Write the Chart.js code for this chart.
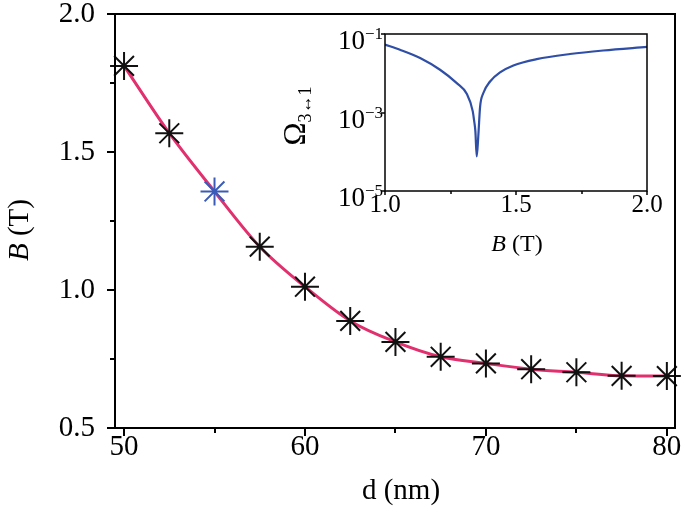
<!DOCTYPE html>
<html>
<head>
<meta charset="utf-8">
<script src="https://cdn.jsdelivr.net/npm/chart.js@4.4.1/dist/chart.umd.min.js"></script>
<style>
  html, body { margin: 0; padding: 0; background: #fff; }
  #wrap { position: relative; width: 685px; height: 519px; }
  #wrap canvas { position: absolute; left: 0; top: 0; }
</style>
</head>
<body>
<div id="wrap">
  <canvas id="mainChart" width="685" height="519"></canvas>
  <canvas id="insetChart" width="685" height="519"></canvas>
</div>
<script>
// main panel: resonance field vs. thickness
const thickness = [50, 52.5, 55, 57.5, 60, 62.5, 65, 67.5, 70, 72.5, 75, 77.5, 80];
const fieldB = [1.812, 1.568, 1.357, 1.157, 1.012, 0.888, 0.812, 0.758, 0.734, 0.713, 0.702, 0.689, 0.688];
const highlighted = 55;

const mainXMajor = [50, 60, 70, 80];
const mainXMinor = [55, 65, 75];
const mainYMajor = [0.5, 1.0, 1.5, 2.0];
const mainYMinor = [0.75, 1.25, 1.75];

// inset: Omega_{3<->1} vs. B
const insetB = [1.00, 1.057, 1.134, 1.21, 1.274, 1.312, 1.335, 1.34, 1.345, 1.350, 1.356, 1.363, 1.375, 1.401, 1.439, 1.49, 1.579, 1.706, 1.833, 2.00];
const insetOmega = [0.0537, 0.0398, 0.0245, 0.0123, 0.00562, 0.00300, 0.00107, 0.00063, 0.000331, 0.0000759, 0.000245, 0.00141, 0.00309, 0.00617, 0.0105, 0.0158, 0.0229, 0.0309, 0.0380, 0.0468];

const insetXMajor = [1.0, 1.5, 2.0];
const insetXMinor = [1.25, 1.75];
const insetYMajor = [1e-5, 1e-3, 1e-1];

const serif = "'Liberation Serif', 'Times New Roman', serif";

function frameAndTicks(o) {
    return {
        id: 'frameAndTicks',
        afterDraw(chart) {
            const { ctx, chartArea: a, scales } = chart;
            ctx.save();
            ctx.strokeStyle = '#000';
            ctx.lineWidth = o.frameWidth;
            ctx.strokeRect(a.left, a.top, a.right - a.left, a.bottom - a.top);
            ctx.lineWidth = o.tickWidth;
            ctx.beginPath();
            const xMark = (vals, len) => vals.forEach(v => {
                const px = Math.round(scales.x.getPixelForValue(v));
                ctx.moveTo(px, a.bottom);
                ctx.lineTo(px, a.bottom + len);
            });
            const yMark = (vals, len) => vals.forEach(v => {
                const py = Math.round(scales.y.getPixelForValue(v));
                ctx.moveTo(a.left, py);
                ctx.lineTo(a.left - len, py);
            });
            xMark(o.xMajor, o.majorLen);
            xMark(o.xMinor, o.minorLen);
            yMark(o.yMajor, o.majorLen);
            yMark(o.yMinor, o.minorLen);
            ctx.stroke();
            ctx.restore();
        }
    };
}

// draws a run of text pieces (font, text, baseline shift) centred on (x, y)
function drawRun(ctx, parts, x, y, angle) {
    ctx.save();
    ctx.translate(x, y);
    ctx.rotate(angle);
    ctx.fillStyle = '#000';
    ctx.textBaseline = 'middle';
    ctx.textAlign = 'left';
    let total = 0;
    parts.forEach(p => { ctx.font = p.font; p.w = ctx.measureText(p.text).width; total += p.w; });
    let cx = -total / 2;
    parts.forEach(p => {
        ctx.font = p.font;
        ctx.fillText(p.text, cx, p.dy || 0);
        cx += p.w;
    });
    ctx.restore();
}

const mainTitles = {
    id: 'mainTitles',
    afterDraw(chart) {
        const { ctx, chartArea: a, scales } = chart;
        // x tick labels drawn here so the last one may overhang the frame
        mainXMajor.forEach(v => {
            drawRun(ctx, [{ text: String(v), font: `29px ${serif}` }], scales.x.getPixelForValue(v), 447, 0);
        });
        drawRun(ctx, [{ text: 'd (nm)', font: `29px ${serif}` }], (a.left + a.right) / 2 + 6, 491, 0);
        drawRun(ctx, [
            { text: 'B', font: `italic 29px ${serif}` },
            { text: ' (T)', font: `29px ${serif}` }
        ], 20, 230, -Math.PI / 2);
    }
};

const insetDecor = {
    id: 'insetDecor',
    afterDraw(chart) {
        const { ctx, chartArea: a, scales } = chart;
        drawRun(ctx, [
            { text: 'B', font: `italic 24px ${serif}` },
            { text: ' (T)', font: `24px ${serif}` }
        ], (a.left + a.right) / 2 + 1, 245, 0);
        drawRun(ctx, [
            { text: 'Ω', font: `31px ${serif}` },
            { text: '3↔1', font: `18px ${serif}`, dy: 9 }
        ], 297, 116, -Math.PI / 2);

        // log tick labels 10^n
        ctx.save();
        ctx.fillStyle = '#000';
        ctx.textBaseline = 'alphabetic';
        insetYMajor.forEach(v => {
            const py = scales.y.getPixelForValue(v);
            const sup = '−' + Math.abs(Math.round(Math.log10(v)));
            ctx.font = `17px ${serif}`;
            const sw = ctx.measureText(sup).width;
            const sx = a.left - 2 - sw;
            ctx.textAlign = 'left';
            ctx.fillText(sup, sx, py + 5);
            ctx.font = `27px ${serif}`;
            ctx.textAlign = 'right';
            ctx.fillText('10', sx, py + 15);
        });
        ctx.restore();
    }
};

function fixTicks(values) {
    return scale => { scale.ticks = values.map(value => ({ value })); };
}

const pts = thickness.map((d, i) => ({ x: d, y: fieldB[i] }));

new Chart(document.getElementById('mainChart'), {
    type: 'line',
    data: {
        datasets: [{
            data: pts,
            borderColor: '#e2306f',
            borderWidth: 3,
            pointRadius: 0,
            cubicInterpolationMode: 'monotone',
            fill: false,
            order: 2
        }, {
            data: pts,
            showLine: false,
            pointStyle: 'star',
            pointRadius: 14,
            pointBorderWidth: 2,
            pointBorderColor: ctx => (ctx.raw && ctx.raw.x === highlighted) ? '#3a5cb8' : '#111',
            pointBackgroundColor: 'transparent',
            clip: false,
            order: 1
        }]
    },
    options: {
        responsive: false,
        animation: false,
        events: [],
        layout: { autoPadding: false, padding: { left: 0, top: 14, right: 10, bottom: 0 } },
        plugins: { legend: { display: false }, tooltip: { enabled: false } },
        scales: {
            x: {
                type: 'linear',
                min: 49.5,
                max: 80.45,
                afterBuildTicks: fixTicks(mainXMajor),
                afterFit: s => { s.height = 91; },
                grid: { display: false, drawTicks: false },
                border: { display: false },
                ticks: { display: false }
            },
            y: {
                min: 0.5,
                max: 2.0,
                afterBuildTicks: fixTicks(mainYMajor),
                afterFit: s => { s.width = 115; s.paddingTop = 0; s.paddingBottom = 0; },
                grid: { display: false, drawTicks: false },
                border: { display: false },
                ticks: { color: '#000', padding: 20, font: { family: serif, size: 29 },
                         callback: v => v.toFixed(1) }
            }
        }
    },
    plugins: [frameAndTicks({
        frameWidth: 2, tickWidth: 2, majorLen: 8, minorLen: 5,
        xMajor: mainXMajor, xMinor: mainXMinor, yMajor: mainYMajor, yMinor: mainYMinor
    }), mainTitles]
});

new Chart(document.getElementById('insetChart'), {
    type: 'line',
    data: {
        datasets: [{
            data: insetB.map((b, i) => ({ x: b, y: insetOmega[i] })),
            borderColor: '#2f4ea6',
            borderWidth: 2.2,
            pointRadius: 0,
            cubicInterpolationMode: 'monotone',
            fill: false
        }]
    },
    options: {
        responsive: false,
        animation: false,
        events: [],
        layout: { autoPadding: false, padding: { left: 0, top: 34, right: 38, bottom: 0 } },
        plugins: { legend: { display: false }, tooltip: { enabled: false } },
        scales: {
            x: {
                type: 'linear',
                min: 1.0,
                max: 2.0,
                afterBuildTicks: fixTicks(insetXMajor),
                afterFit: s => { s.height = 328; s.paddingLeft = 0; s.paddingRight = 0; },
                grid: { display: false, drawTicks: false },
                border: { display: false },
                ticks: { color: '#000', padding: -1, font: { family: serif, size: 25 },
                         callback: v => v.toFixed(1) }
            },
            y: {
                type: 'logarithmic',
                min: 1e-5,
                max: 1e-1,
                afterBuildTicks: fixTicks(insetYMajor),
                afterFit: s => { s.width = 385; s.paddingTop = 0; s.paddingBottom = 0; },
                grid: { display: false, drawTicks: false },
                border: { display: false },
                ticks: { display: false }
            }
        }
    },
    plugins: [frameAndTicks({
        frameWidth: 1.5, tickWidth: 1.5, majorLen: 4, minorLen: 3,
        xMajor: insetXMajor, xMinor: insetXMinor, yMajor: insetYMajor, yMinor: []
    }), insetDecor]
});
</script>
</body>
</html>
